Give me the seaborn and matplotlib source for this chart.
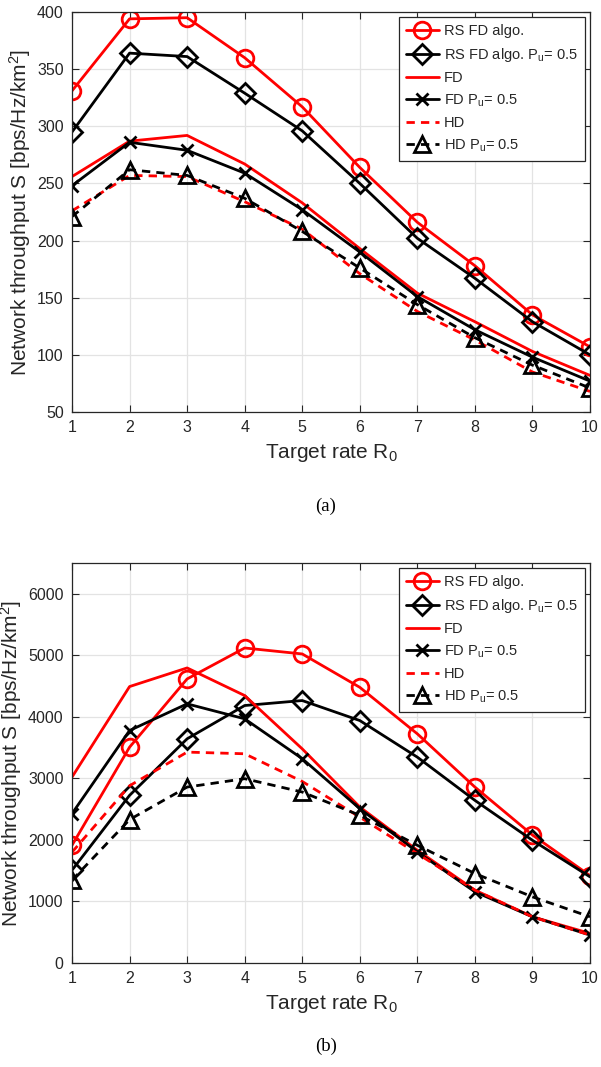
import numpy as np
import pandas as pd
import matplotlib
matplotlib.use("Agg")
import matplotlib.pyplot as plt
import seaborn as sns

R0 = [1, 2, 3, 4, 5, 6, 7, 8, 9, 10]
x_ticks = [1, 2, 3, 4, 5, 6, 7, 8, 9, 10]

# (a)
a_rs_fd = [331, 394, 395, 360, 317, 264, 216, 178, 135, 107]
a_rs_fd_pu = [295, 364, 361, 329, 296, 250, 202, 167, 129, 100]
a_fd = [256, 287, 292, 267, 233, 193, 154, 129, 103, 82]
a_fd_pu = [248, 286, 279, 259, 227, 190, 151, 122, 98, 77]
a_hd = [226, 257, 256, 234, 210, 171, 138, 113, 85, 68]
a_hd_pu = [221, 262, 257, 237, 208, 176, 144, 115, 91, 71]
a_yticks = [50, 100, 150, 200, 250, 300, 350, 400]

# (b)
b_rs_fd = [1913, 3507, 4616, 5119, 5022, 4480, 3724, 2859, 2080, 1420]
b_rs_fd_pu = [1508, 2724, 3643, 4184, 4265, 3940, 3345, 2643, 1994, 1400]
b_fd = [3021, 4492, 4795, 4346, 3480, 2535, 1832, 1184, 751, 481]
b_fd_pu = [2427, 3778, 4211, 3968, 3320, 2508, 1805, 1157, 751, 454]
b_hd = [1800, 2880, 3427, 3400, 2950, 2370, 1778, 1184, 751, 454]
b_hd_pu = [1346, 2330, 2859, 2995, 2778, 2400, 1913, 1454, 1075, 751]
b_yticks = [0, 1000, 2000, 3000, 4000, 5000, 6000]

labels = ["RS FD algo.", "RS FD algo. P$_\\mathregular{u}$= 0.5", "FD",
          "FD P$_\\mathregular{u}$= 0.5", "HD", "HD P$_\\mathregular{u}$= 0.5"]

sns.set_theme(style="ticks")
plt.rcParams['font.family'] = ['Liberation Sans', 'DejaVu Sans']
plt.rcParams['mathtext.fontset'] = 'custom'
plt.rcParams['mathtext.rm'] = 'Liberation Sans'
plt.rcParams['mathtext.it'] = 'Liberation Sans'

fig = plt.figure(figsize=(6.01, 10.67), dpi=100)
W, H = 601, 1067
axA = fig.add_axes([72 / W, 1 - 412 / H, (590 - 72) / W, 400 / H])
axB = fig.add_axes([72 / W, 1 - 963 / H, (590 - 72) / W, 400 / H])

RED = "#ff0000"
BLK = "#000000"
styles = [
    dict(color=RED, marker="o", linestyle="-", markersize=12),
    dict(color=BLK, marker="D", linestyle="-", markersize=10),
    dict(color=RED, marker=None, linestyle="-"),
    dict(color=BLK, marker="x", linestyle="-", markersize=9),
    dict(color=RED, marker=None, linestyle=(0, (3, 2.2))),
    dict(color=BLK, marker="^", linestyle=(0, (3, 2.2)), markersize=12),
]


def draw(ax, series, yticks, ylim):
    for vals, lab, st in zip(series, labels, styles):
        df = pd.DataFrame({"R0": R0, "S": vals})
        kw = dict(color=st["color"], linestyle=st["linestyle"], linewidth=2.0)
        if st["marker"] is not None:
            kw.update(marker=st["marker"], markersize=st["markersize"],
                      markerfacecolor="none", markeredgecolor=st["color"],
                      markeredgewidth=2.0)
        sns.lineplot(data=df, x="R0", y="S", ax=ax, label=lab, **kw)
    ax.set_xlim(1, 10)
    ax.set_ylim(*ylim)
    ax.set_xticks(x_ticks)
    ax.set_yticks(yticks)
    ax.grid(True, color="#e3e3e3", linewidth=0.9)
    ax.set_axisbelow(True)
    for sp in ax.spines.values():
        sp.set_visible(True)
        sp.set_color("#262626")
        sp.set_linewidth(0.9)
    ax.tick_params(direction="in", top=True, right=True, length=5,
                   width=0.8, labelsize=11.5, colors="#262626",
                   labelcolor="#262626", pad=6)
    ax.set_xlabel("Target rate R$_\\mathregular{0}$", fontsize=15, color="#262626", labelpad=5)
    ax.set_ylabel("Network throughput S [bps/Hz/km$^\\mathregular{2}$]", fontsize=15,
                  color="#262626", labelpad=3)
    leg = ax.legend(loc="upper right", fontsize=10.5, handlelength=2.2,
                    labelspacing=0.5, handletextpad=0.35, borderpad=0.5,
                    fancybox=False, framealpha=1, edgecolor="#262626",
                    borderaxespad=0.35)
    leg.get_frame().set_linewidth(0.9)


draw(axA, [a_rs_fd, a_rs_fd_pu, a_fd, a_fd_pu, a_hd, a_hd_pu], a_yticks, (50, 400))
draw(axB, [b_rs_fd, b_rs_fd_pu, b_fd, b_fd_pu, b_hd, b_hd_pu], b_yticks, (0, 6500))

fig.text(326 / W, 1 - 506 / H, "(a)", ha="center", va="center",
         fontsize=13.5, family=["Liberation Serif", "DejaVu Serif"], color="#000000")
fig.text(326 / W, 1 - 1046 / H, "(b)", ha="center", va="center",
         fontsize=13.5, family=["Liberation Serif", "DejaVu Serif"], color="#000000")

fig.savefig("out.png", dpi=100)
